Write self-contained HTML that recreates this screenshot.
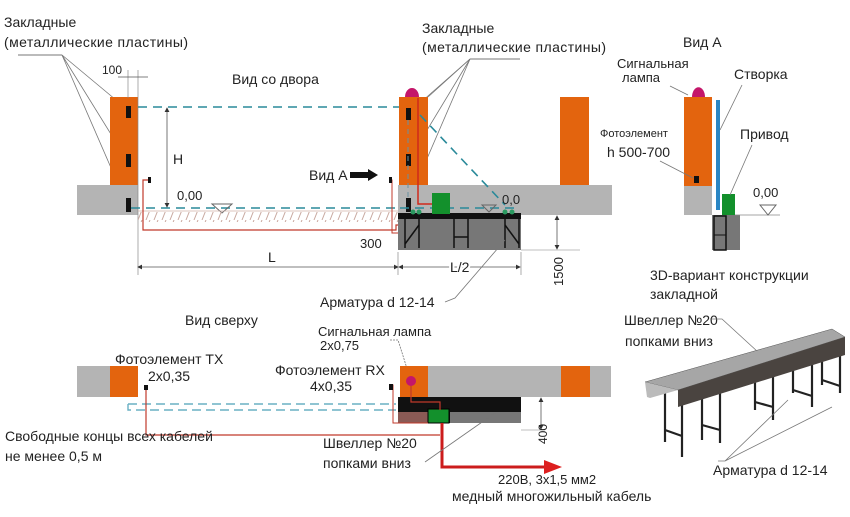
<!DOCTYPE html>
<html><head><meta charset="utf-8"><style>
body{margin:0;background:#fff}
svg text{font-family:"Liberation Sans",sans-serif;fill:#222}
</style></head><body>
<svg width="850" height="512" viewBox="0 0 850 512" xmlns="http://www.w3.org/2000/svg">
<defs>
<pattern id="h" width="8" height="10" patternUnits="userSpaceOnUse"><line x1="2" y1="10" x2="6" y2="0" stroke="#c9a9a0" stroke-width="1"/></pattern>
<marker id="ar" markerWidth="6" markerHeight="6" refX="5" refY="3" orient="auto"><path d="M0,0L6,3L0,6z" fill="#333"/></marker>
<marker id="al" markerWidth="6" markerHeight="6" refX="1" refY="3" orient="auto"><path d="M6,0L0,3L6,6z" fill="#333"/></marker>
</defs>

<!-- ===== Вид со двора ===== -->
<text x="4" y="27" font-size="14">Закладные</text>
<text x="4" y="47" font-size="14" textLength="184">(металлические пластины)</text>
<line x1="18" y1="55" x2="62" y2="55" stroke="#777"/>
<g stroke="#777" stroke-width="0.8">
<line x1="62" y1="55" x2="122" y2="105"/><line x1="62" y1="55" x2="122" y2="152"/><line x1="62" y1="55" x2="125" y2="200"/>
</g>
<rect x="77" y="185" width="61" height="30" fill="#b4b4b4"/>
<rect x="110" y="97" width="28" height="88" fill="#e3640e"/>
<rect x="126" y="106" width="5" height="12" fill="#111"/><rect x="126" y="154" width="5" height="13" fill="#111"/><rect x="126" y="198" width="5" height="14" fill="#111"/>
<line x1="128" y1="70" x2="128" y2="98" stroke="#888" stroke-width="0.7"/><line x1="138" y1="70" x2="138" y2="275" stroke="#888" stroke-width="0.7"/>
<text x="102" y="74" font-size="12">100</text>
<line x1="118" y1="77" x2="148" y2="77" stroke="#555" stroke-width="0.7"/>
<text x="232" y="84" font-size="14">Вид со двора</text>
<line x1="138" y1="107" x2="400" y2="107" stroke="#2a8a9a" stroke-width="1.6" stroke-dasharray="9,6"/>
<line x1="131" y1="208" x2="400" y2="208" stroke="#2a8a9a" stroke-width="1.6" stroke-dasharray="9,6"/>
<line x1="167" y1="108" x2="167" y2="207" stroke="#555" stroke-width="0.8" marker-start="url(#al)" marker-end="url(#ar)"/>
<text x="173" y="164" font-size="14">H</text>
<text x="177" y="200" font-size="13">0,00</text>
<path d="M212,204L232,204L222,213z" fill="none" stroke="#666"/>
<rect x="138" y="212" width="260" height="10" fill="url(#h)"/>
<line x1="138" y1="211" x2="398" y2="211" stroke="#d0b0a8" stroke-width="0.7"/>
<path d="M150,180L143,180L143,230L396,230L396,225L420,225L420,205" fill="none" stroke="#c0392b" stroke-width="1.2"/>
<path d="M390,180L392,180L392,233L428,233L428,218" fill="none" stroke="#c0392b" stroke-width="1"/>
<rect x="148" y="177" width="3" height="6" fill="#111"/><rect x="389" y="177" width="3" height="6" fill="#111"/>
<text x="309" y="180" font-size="14">Вид А</text>
<path d="M350,172L368,172L368,169L378,175L368,181L368,178L350,178z" fill="#111"/>
<line x1="138" y1="267" x2="398" y2="267" stroke="#555" stroke-width="0.8" marker-start="url(#al)" marker-end="url(#ar)"/>
<text x="268" y="262" font-size="14">L</text>
<text x="360" y="248" font-size="13">300</text>
<text x="422" y="33" font-size="14">Закладные</text>
<text x="422" y="52" font-size="14" textLength="184">(металлические пластины)</text>
<line x1="470" y1="59" x2="520" y2="59" stroke="#777"/>
<g stroke="#777" stroke-width="0.8">
<line x1="470" y1="59" x2="428" y2="97"/><line x1="470" y1="59" x2="412" y2="110"/><line x1="470" y1="59" x2="412" y2="155"/><line x1="470" y1="59" x2="410" y2="198"/>
</g>
<rect x="398" y="185" width="214" height="30" fill="#b4b4b4"/>
<rect x="399" y="97" width="29" height="88" fill="#e3640e"/>
<rect x="560" y="97" width="29" height="88" fill="#e3640e"/>
<path d="M405,97A7,9 0 0 1 419,97z" fill="#c4166a"/>
<rect x="406" y="108" width="5" height="12" fill="#111"/><rect x="406" y="154" width="5" height="12" fill="#111"/><rect x="406" y="198" width="5" height="14" fill="#111"/>
<line x1="408" y1="120" x2="408" y2="198" stroke="#6a90a0" stroke-dasharray="5,4"/>
<path d="M418,98L418,204L433,204" fill="none" stroke="#d0291c" stroke-width="1.5"/>
<line x1="420" y1="115" x2="505" y2="205" stroke="#2a8a9a" stroke-width="1.6" stroke-dasharray="9,6"/>
<line x1="400" y1="208" x2="520" y2="208" stroke="#2a8a9a" stroke-width="1.6" stroke-dasharray="9,6"/>
<rect x="398" y="219" width="123" height="31" fill="#777"/>
<rect x="398" y="213" width="123" height="6" fill="#111"/>
<rect x="432" y="193" width="18" height="21" fill="#13902c"/>
<circle cx="413" cy="212" r="2.5" fill="#2a9a60"/><circle cx="419" cy="212" r="2.5" fill="#2a9a60"/><circle cx="505" cy="212" r="2.5" fill="#2a9a60"/><circle cx="512" cy="212" r="2.5" fill="#2a9a60"/>
<g stroke="#111" stroke-width="1.5">
<line x1="405" y1="219" x2="405" y2="248"/><line x1="419" y1="219" x2="419" y2="248"/><line x1="405" y1="244" x2="419" y2="225"/>
<line x1="454" y1="219" x2="454" y2="248"/><line x1="468" y1="219" x2="468" y2="248"/><line x1="454" y1="237" x2="468" y2="237"/>
<line x1="505" y1="219" x2="505" y2="248"/><line x1="519" y1="219" x2="519" y2="248"/><line x1="505" y1="225" x2="519" y2="244"/>
</g>
<text x="502" y="204" font-size="13">0,0</text>
<path d="M482,205L496,205L489,212z" fill="none" stroke="#666"/>
<line x1="521" y1="250" x2="580" y2="250" stroke="#aaa" stroke-width="0.7"/>
<line x1="557" y1="216" x2="557" y2="249" stroke="#555" stroke-width="0.8" marker-start="url(#al)" marker-end="url(#ar)"/>
<text transform="translate(563,286) rotate(-90)" font-size="13">1500</text>
<line x1="398" y1="252" x2="398" y2="275" stroke="#888" stroke-width="0.7"/><line x1="521" y1="252" x2="521" y2="275" stroke="#888" stroke-width="0.7"/>
<line x1="399" y1="267" x2="520" y2="267" stroke="#555" stroke-width="0.8" marker-start="url(#al)" marker-end="url(#ar)"/>
<text x="450" y="272" font-size="14" style="paint-order:stroke" stroke="#fff" stroke-width="4">L/2</text>
<text x="320" y="307" font-size="14">Арматура d 12-14</text>
<path d="M445,302L455,298L505,240" fill="none" stroke="#777" stroke-width="0.8"/>

<!-- ===== Вид А ===== -->
<text x="683" y="47" font-size="14">Вид А</text>
<text x="617" y="68" font-size="13">Сигнальная</text>
<text x="622" y="82" font-size="13">лампа</text>
<text x="734" y="79" font-size="14">Створка</text>
<text x="600" y="137" font-size="11">Фотоэлемент</text>
<text x="607" y="157" font-size="14">h 500-700</text>
<text x="740" y="139" font-size="14">Привод</text>
<text x="753" y="197" font-size="13">0,00</text>
<rect x="684" y="186" width="28" height="29" fill="#b4b4b4"/>
<rect x="684" y="97" width="28" height="89" fill="#e3640e"/>
<path d="M692,97A6,9 0 0 1 705,97z" fill="#c4166a"/>
<rect x="694" y="176" width="5" height="7" fill="#111"/>
<rect x="716" y="100" width="4" height="110" fill="#2a86c4"/>
<rect x="722" y="194" width="13" height="21" fill="#13902c"/>
<rect x="712" y="215" width="28" height="35" fill="#777"/>
<rect x="714" y="216" width="12" height="34" fill="none" stroke="#111" stroke-width="1.5"/>
<line x1="714" y1="235" x2="726" y2="235" stroke="#111"/>
<line x1="735" y1="215" x2="780" y2="215" stroke="#888" stroke-width="0.8"/>
<path d="M760,205L776,205L768,215z" fill="none" stroke="#666"/>
<g stroke="#777" stroke-width="0.8" fill="none">
<path d="M670,86L688,95"/><path d="M742,85L720,130"/><path d="M752,145L730,195"/><path d="M660,161L693,178"/>
</g>

<!-- ===== Вид сверху ===== -->
<text x="185" y="325" font-size="14">Вид сверху</text>
<text x="318" y="336" font-size="13">Сигнальная лампа</text>
<text x="320" y="350" font-size="13">2x0,75</text>
<path d="M390,340L398,340L410,378" fill="none" stroke="#777" stroke-width="0.8" stroke-dasharray="2,1"/>
<text x="115" y="364" font-size="14">Фотоэлемент ТХ</text>
<text x="148" y="381" font-size="14">2x0,35</text>
<text x="275" y="375" font-size="14">Фотоэлемент RX</text>
<text x="310" y="391" font-size="14">4x0,35</text>
<rect x="77" y="366" width="61" height="31" fill="#b4b4b4"/>
<rect x="110" y="366" width="28" height="31" fill="#e3640e"/>
<rect x="400" y="366" width="211" height="31" fill="#b4b4b4"/>
<rect x="400" y="366" width="28" height="31" fill="#e3640e"/>
<rect x="561" y="366" width="29" height="31" fill="#e3640e"/>
<circle cx="411" cy="381" r="5" fill="#c4166a"/>
<rect x="398" y="397" width="123" height="26" fill="#111"/>
<rect x="450" y="412" width="71" height="11" fill="#777"/>
<rect x="398" y="412" width="30" height="11" fill="#8a5a55"/>
<rect x="428" y="409" width="21" height="14" fill="#13902c" stroke="#000"/>
<line x1="128" y1="404" x2="396" y2="404" stroke="#6ab0c4" stroke-width="1.4" stroke-dasharray="9,5"/>
<path d="M128,404L128,410L396,410" fill="none" stroke="#6ab0c4" stroke-width="1.4" stroke-dasharray="9,5"/>
<path d="M146,388L146,435L440,435" fill="none" stroke="#c0392b" stroke-width="1.2"/>
<path d="M391,385L393,385L393,423L428,423" fill="none" stroke="#c0392b" stroke-width="1"/>
<path d="M411,386L411,402L440,402L440,410" fill="none" stroke="#c0392b" stroke-width="1.2"/>
<rect x="144" y="385" width="4" height="5" fill="#111"/><rect x="389" y="384" width="4" height="6" fill="#111"/>
<path d="M442,423L442,467L548,467" fill="none" stroke="#cc1c1c" stroke-width="3"/>
<path d="M544,460L562,467L544,474z" fill="#dd1f1f"/>
<line x1="521" y1="430" x2="545" y2="430" stroke="#aaa" stroke-width="0.7"/>
<line x1="541" y1="398" x2="541" y2="429" stroke="#555" stroke-width="0.8" marker-start="url(#al)" marker-end="url(#ar)"/>
<text transform="translate(547,444) rotate(-90)" font-size="12">400</text>
<text x="5" y="441" font-size="14">Свободные концы всех кабелей</text>
<text x="5" y="461" font-size="14">не менее 0,5 м</text>
<text x="323" y="448" font-size="14">Швеллер №20</text>
<text x="323" y="468" font-size="14">попками вниз</text>
<path d="M425,462L435,455L495,413" fill="none" stroke="#777" stroke-width="0.8"/>
<text x="498" y="484" font-size="13">220В, 3x1,5 мм2</text>
<text x="452" y="501" font-size="14">медный многожильный кабель</text>

<!-- ===== 3D ===== -->
<text x="650" y="280" font-size="14">3D-вариант конструкции</text>
<text x="650" y="299" font-size="14">закладной</text>
<text x="624" y="325" font-size="14">Швеллер №20</text>
<text x="625" y="346" font-size="14">попками вниз</text>
<path d="M710,319L722,319L758,352" fill="none" stroke="#777" stroke-width="0.8"/>
<g stroke="#222" stroke-width="2.2">
<line x1="665" y1="385" x2="665" y2="442"/><line x1="682" y1="392" x2="682" y2="457"/><line x1="665" y1="430" x2="682" y2="436"/>
<line x1="702" y1="396" x2="702" y2="440"/><line x1="720" y1="391" x2="720" y2="443"/><line x1="702" y1="425" x2="720" y2="430"/>
<line x1="755" y1="378" x2="755" y2="410"/><line x1="773" y1="373" x2="773" y2="420"/><line x1="755" y1="402" x2="773" y2="407"/>
<line x1="793" y1="367" x2="793" y2="393"/><line x1="812" y1="360" x2="812" y2="407"/><line x1="793" y1="390" x2="812" y2="396"/>
<line x1="822" y1="357" x2="822" y2="385"/><line x1="840" y1="352" x2="840" y2="393"/><line x1="822" y1="380" x2="840" y2="386"/>
</g>
<path d="M645,382L832,329L845,337L678,390z" fill="#a6a6a6" stroke="#555" stroke-width="0.5"/>
<path d="M678,390L845,337L845,355L678,407z" fill="#4a4440"/>
<path d="M645,382L678,390L650,398L647,397z" fill="#bbb"/>
<path d="M718,461L725,461L788,400M725,461L832,407" fill="none" stroke="#777" stroke-width="0.8"/>
<text x="713" y="475" font-size="14">Арматура d 12-14</text>
</svg>
</body></html>
